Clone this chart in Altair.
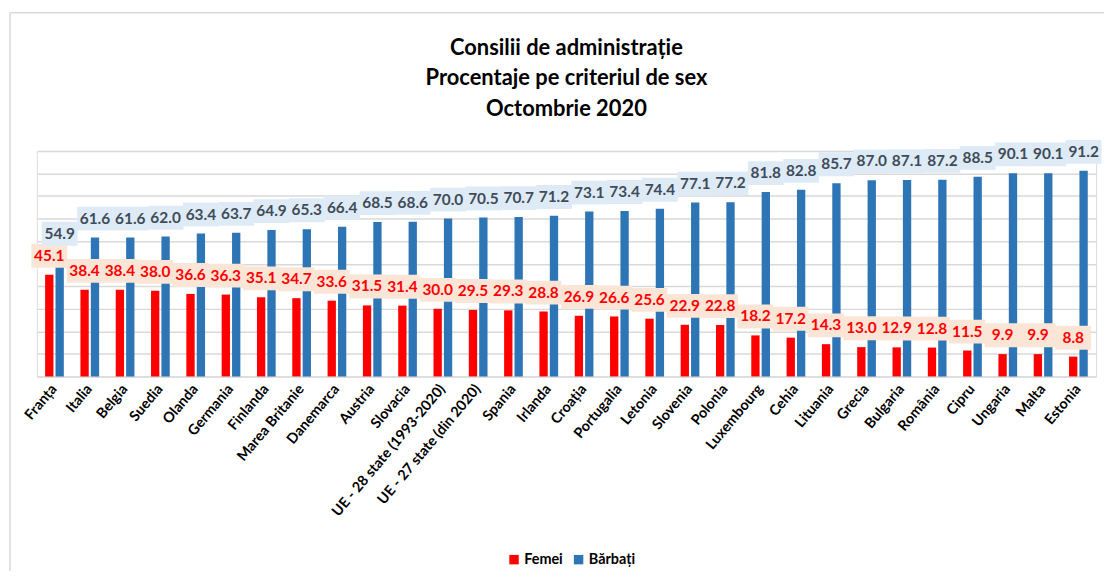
import altair as alt
import pandas as pd

countries = ["Franța", "Italia", "Belgia", "Suedia", "Olanda", "Germania", "Finlanda",
             "Marea Britanie", "Danemarca", "Austria", "Slovacia",
             "UE - 28 state (1993-2020)", "UE - 27 state (din 2020)", "Spania", "Irlanda",
             "Croația", "Portugalia", "Letonia", "Slovenia", "Polonia", "Luxembourg",
             "Cehia", "Lituania", "Grecia", "Bulgaria", "România", "Cipru", "Ungaria",
             "Malta", "Estonia"]
femei = [45.1, 38.4, 38.4, 38.0, 36.6, 36.3, 35.1, 34.7, 33.6, 31.5, 31.4, 30.0, 29.5,
         29.3, 28.8, 26.9, 26.6, 25.6, 22.9, 22.8, 18.2, 17.2, 14.3, 13.0, 12.9, 12.8,
         11.5, 9.9, 9.9, 8.8]
barbati = [54.9, 61.6, 61.6, 62.0, 63.4, 63.7, 64.9, 65.3, 66.4, 68.5, 68.6, 70.0, 70.5,
           70.7, 71.2, 73.1, 73.4, 74.4, 77.1, 77.2, 81.8, 82.8, 85.7, 87.0, 87.1, 87.2,
           88.5, 90.1, 90.1, 91.2]
series = ["Femei", "Bărbați"]
title_lines = ["Consilii de administrație", "Procentaje pe criteriul de sex", "Octombrie 2020"]
bar_colors = ["#FF0000", "#2E75B6"]
text_colors = {"Femei": "#FF0000", "Bărbați": "#404B5A"}
box_colors = {"Femei": "#FBE5D6", "Bărbați": "#DEEBF7"}

rows = []
for c, f, b in zip(countries, femei, barbati):
    rows.append({"tara": c, "serie": "Femei", "val": f})
    rows.append({"tara": c, "serie": "Bărbați", "val": b})
df = pd.DataFrame(rows)
df["txtc"] = df["serie"].map(text_colors)
df["boxc"] = df["serie"].map(box_colors)
df["lbl"] = df["val"].map(lambda v: f"{v:.1f}")

FONT = "Lato"
W, H = 1066, 227

x_enc = alt.X("tara:N", sort=countries,
              scale=alt.Scale(paddingInner=0.47, paddingOuter=0.235),
              axis=alt.Axis(title=None, labelAngle=-50, labelFont=FONT, labelFontSize=14.5,
                            labelFontWeight="bold", labelColor="black", ticks=False,
                            domain=False, labelPadding=10, labelOverlap=False, labelLimit=300))
xo_enc = alt.XOffset("serie:N", sort=series, scale=alt.Scale(paddingInner=0.2))
y_enc = alt.Y("val:Q", scale=alt.Scale(domain=[0, 100], nice=False),
              axis=alt.Axis(title=None, labels=False, ticks=False, domain=False,
                            values=list(range(0, 101, 10)), grid=True,
                            gridColor="#D9D9D9", gridWidth=1.5))

base = alt.Chart(df)

bars = base.mark_bar().encode(
    x=x_enc, xOffset=xo_enc, y=y_enc,
    color=alt.Color("serie:N", sort=series,
                    scale=alt.Scale(domain=series, range=bar_colors),
                    legend=alt.Legend(orient="none", legendX=473, legendY=404,
                                      direction="horizontal", title=None,
                                      symbolType="square", symbolSize=90,
                                      symbolStrokeWidth=0, labelFont=FONT,
                                      labelFontSize=14.5, labelFontWeight="bold",
                                      labelColor="black", columnPadding=8,
                                      labelOffset=3)),
)

boxes = base.mark_point(
    shape="M-1.5,-1L1.5,-1L1.5,1L-1.5,1Z", filled=True, size=576,
    opacity=1, strokeWidth=0, yOffset=-19
).encode(x=x_enc, xOffset=xo_enc, y=y_enc, color=alt.Color("boxc:N", scale=None))

texts = base.mark_text(
    font=FONT, fontSize=15.5, fontWeight="bold", baseline="middle", align="center",
    yOffset=-19
).encode(x=x_enc, xOffset=xo_enc, y=y_enc, text="lbl:N",
         color=alt.Color("txtc:N", scale=None))

one = pd.DataFrame({"a": [0]})
vline = alt.Chart(one).mark_rule(color="#D9D9D9", strokeWidth=1.5).encode(
    x=alt.value(-27), y=alt.value(-139), y2=alt.value(440))
hline = alt.Chart(one).mark_rule(color="#D9D9D9", strokeWidth=1.5).encode(
    x=alt.value(-27), x2=alt.value(1090), y=alt.value(-139))
title = alt.Chart(one).mark_text(
    font=FONT, fontSize=22, fontWeight="bold", color="black", align="center",
    baseline="alphabetic", lineHeight=31
).encode(x=alt.value(W / 2), y=alt.value(-97), text=alt.value(title_lines))

chart = alt.layer(vline, hline, title, bars, boxes, texts).resolve_scale(
    color="independent").properties(
    width=W, height=H,
    autosize=alt.AutoSizeParams(type="none"),
    padding={"left": 29, "top": 142, "right": 8, "bottom": 194},
).configure_view(stroke=None).configure(background="white")

chart.save("out.html", embed_options={"renderer": "svg", "actions": False})
